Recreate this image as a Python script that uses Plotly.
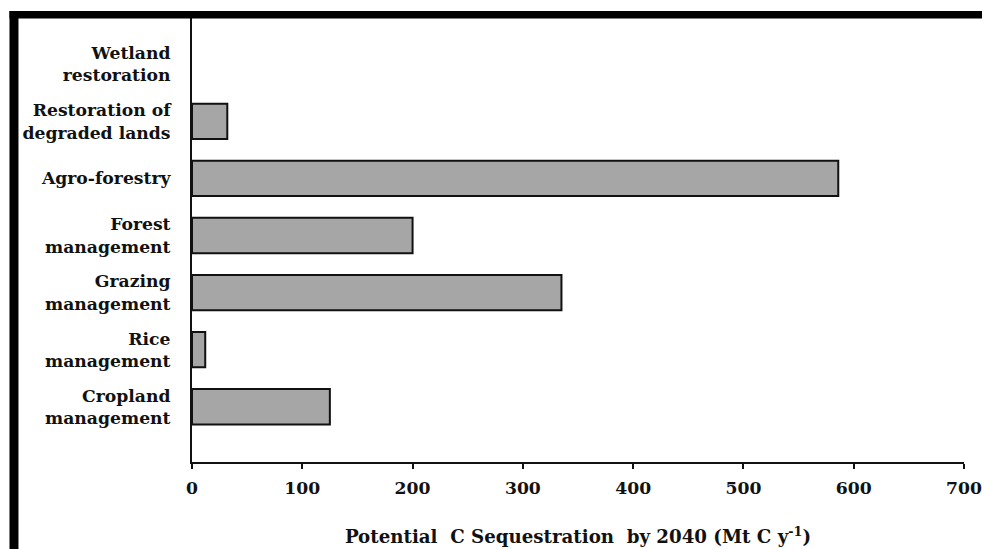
import plotly.graph_objects as go

categories = ["Cropland<br>management", "Rice<br>management", "Grazing<br>management",
              "Forest<br>management", "Agro-forestry", "Restoration of<br>degraded lands",
              "Wetland<br>restoration"]
values = [125, 12, 335, 200, 586, 32, 0]
x_ticks = [0, 100, 200, 300, 400, 500, 600, 700]

# the photographed page appears slightly scaled down; compensate
K = 1.0125
W, H = round(982 * K), round(549 * K)
L, R, T, B = 189.3 * K, 962.5 * K, 18 * K, 460 * K

def px(x):
    return (x * K - L) / (R - L)

def py(y):
    return (B - y * K) / (B - T)

def fnt(size):
    return dict(family="DejaVu Serif", size=size * K, color="#111111")

fig = go.Figure(go.Bar(
    x=values, y=categories, orientation="h", width=0.62,
    marker=dict(color="#a6a6a6",
                line=dict(color="#111111", width=[2 if v > 0 else 0 for v in values])),
))

fig.update_layout(
    width=W, height=H,
    margin=dict(l=L, r=W - R, t=T, b=H - B, pad=0),
    paper_bgcolor="white", plot_bgcolor="white",
    showlegend=False,
    font=fnt(17),
    xaxis=dict(range=[0, 700], tickvals=x_ticks, ticktext=[f"<b>{v}</b>" for v in x_ticks],
               showgrid=False, zeroline=False, showline=True, linecolor="#111111", linewidth=2,
               ticks="outside", ticklen=5, tickwidth=2, tickcolor="#111111",
               ticklabelstandoff=4,
               title=dict(text="<b>Potential  C Sequestration  by 2040 (Mt C y<sup>-1</sup>)</b>",
                          standoff=34, font=fnt(18))),
    yaxis=dict(type="category", range=[-0.968, 6.81],
               tickvals=categories, ticktext=[f"<b>{c.replace('<br>', '</b><br><b>')}</b>" for c in categories],
               showgrid=False, zeroline=False, showline=True, linecolor="#111111", linewidth=2,
               ticks="", ticklabelstandoff=16),
)

shapes = [
    dict(type="rect", xref="paper", yref="paper", x0=px(6.5), x1=px(1000), y0=py(11), y1=py(18.5),
         fillcolor="black", line=dict(width=0), layer="above"),
    dict(type="rect", xref="paper", yref="paper", x0=px(6.5), x1=px(15.5), y0=py(11), y1=py(570),
         fillcolor="black", line=dict(width=0), layer="above"),
    dict(type="line", xref="paper", yref="paper", x0=px(15.5), x1=px(1000), y0=py(547.5), y1=py(547.5),
         line=dict(color="#555555", width=1.5), layer="above"),
]
fig.update_layout(shapes=shapes)

fig.write_html("out.html", config={"displayModeBar": False, "staticPlot": True},
               post_script="document.body.style.margin='0';document.body.style.overflow='hidden';")
